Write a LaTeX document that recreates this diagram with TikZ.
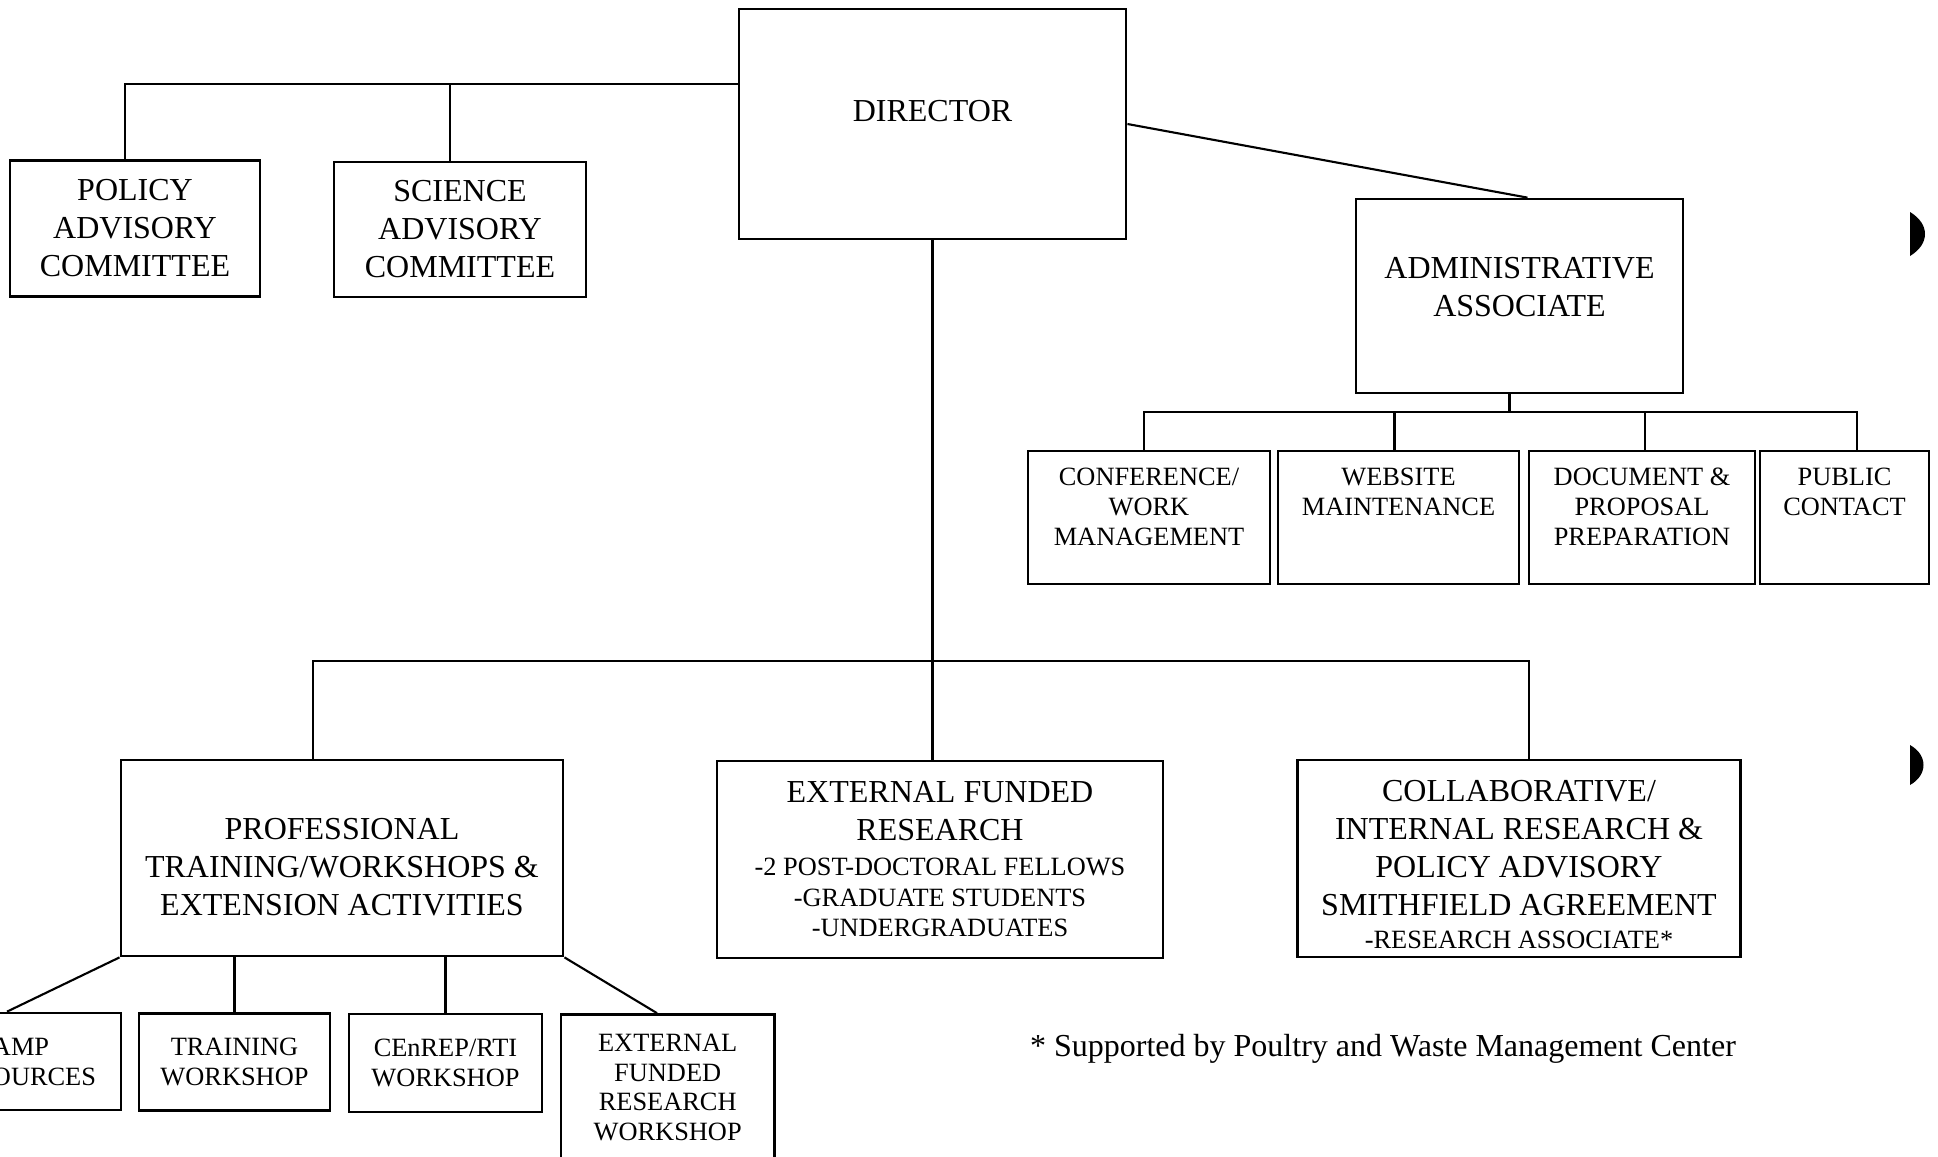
\documentclass[tikz,border=0pt]{standalone}
\usepackage{fontspec}
\setmainfont{Liberation Serif}
\newcommand{\boxfont}{\fontsize{9.1}{10.8}\selectfont}
\newcommand{\subfont}{\fontsize{7.5}{8.5}\selectfont}
\begin{document}
\begin{tikzpicture}[x=0.01cm, y=-0.01cm,
  unit/.style ={draw, line width=0.75pt, inner sep=0pt, align=center, font=\boxfont},
  subunit/.style ={unit, font=\subfont},
  link/.style ={line width=0.6pt}]
 \useasboundingbox (0,0) rectangle (1938,1157);
 \clip (0,0) rectangle (1938,1157);
 \node[unit] (director) at (932.5,124) {\parbox[c][2.30cm][t]{3.87cm}{\centering\vspace*{0.914cm}DIRECTOR}};
 \node[unit, minimum width=2.50cm, minimum height=1.36cm] (policy) at (135,228.5) {POLICY\\ADVISORY\\COMMITTEE};
 \node[unit, minimum width=2.52cm, minimum height=1.35cm] (science) at (460,229.5) {SCIENCE\\ADVISORY\\COMMITTEE};
 \node[unit] (admin) at (1519.5,296) {\parbox[c][1.94cm][t]{3.27cm}{\centering\vspace*{0.584cm}ADMINISTRATIVE\\ASSOCIATE}};
 \node[subunit] (conference) at (1149,517.5) {\parbox[c][1.33cm][t]{2.42cm}{\centering\vspace*{0.17cm}CONFERENCE/\\WORK\\MANAGEMENT}};
 \node[subunit] (website) at (1398.5,517.5) {\parbox[c][1.33cm][t]{2.41cm}{\centering\vspace*{0.17cm}WEBSITE\\MAINTENANCE}};
 \node[subunit] (document) at (1642,517.5) {\parbox[c][1.33cm][t]{2.26cm}{\centering\vspace*{0.17cm}DOCUMENT \&\\PROPOSAL\\PREPARATION}};
 \node[subunit] (public) at (1844.5,517.5) {\parbox[c][1.33cm][t]{1.69cm}{\centering\vspace*{0.17cm}PUBLIC\\CONTACT}};
 \node[unit] (profess) at (342,858) {\parbox[c][1.96cm][t]{4.42cm}{\centering\vspace*{0.584cm}PROFESSIONAL\\TRAINING/WORKSHOPS \&\\EXTENSION ACTIVITIES}};
 \node[unit, minimum width=4.46cm, minimum height=1.97cm] (extfund) at (940,859.5) {EXTERNAL FUNDED\\RESEARCH\\[-0.9pt]\subfont -2 POST-DOCTORAL FELLOWS\\[-2.1pt]\subfont -GRADUATE STUDENTS\\[-2.1pt]\subfont -UNDERGRADUATES};
 \node[unit, minimum width=4.43cm, minimum height=1.97cm] (collab) at (1519,858.5) {\rule{0pt}{9.5pt}COLLABORATIVE/\\INTERNAL RESEARCH \&\\POLICY ADVISORY\\SMITHFIELD AGREEMENT\\[-1.4pt]\subfont -RESEARCH ASSOCIATE*};
 \node[subunit, align=left, minimum width=1.54cm, minimum height=0.97cm] (amp) at (44,1061.5) {AMP\\OURCES};
 \node[subunit, minimum width=1.91cm, minimum height=0.97cm] (training) at (234.5,1062) {TRAINING\\WORKSHOP};
 \node[subunit, minimum width=1.93cm, minimum height=0.98cm] (cenrep) at (445.5,1063) {CEnREP/RTI\\WORKSHOP};
 \node[subunit, minimum width=2.135cm, minimum height=1.46cm] (extws) at (667.7,1087.5) {EXTERNAL\\FUNDED\\RESEARCH\\WORKSHOP};
 \node[font=\boxfont] (note) at (1383,1049) {* Supported by Poultry and Waste Management Center};
 \draw[link] ([yshift=4mm]director.west) -| ([xshift=-1mm]policy.north);
 \draw[link] ([yshift=4mm]director.west) -| ([xshift=-1mm]science.north);
 \draw[link] (director.east) -- ([xshift=0.8mm]admin.north);
 \draw[link] ([xshift=-1mm]admin.south) -- ++(0,18) coordinate (abus);
 \draw[link] (abus) -| ([xshift=-0.5mm]conference.north);
 \draw[link] (abus) -| ([xshift=-0.4mm]website.north);
 \draw[link] (abus) -| ([xshift=0.3mm]document.north);
 \draw[link] (abus) -| ([xshift=1.25mm]public.north);
 \draw[link] (director.south) -- (director.south |- extfund.north);
 \draw[link] ([xshift=-2.9mm]profess.north) -- ++(0,-98) -| ([xshift=1mm]collab.north);
 \draw[link] (profess.south west) -- ([xshift=-3.7mm]amp.north);
 \draw[link] (training.north) -- (training.north |- profess.south);
 \draw[link] (cenrep.north) -- (cenrep.north |- profess.south);
 \draw[link] (profess.south east) -- ([xshift=-1.07mm]extws.north);
 \fill (1910,212) .. controls (1930,224) and (1930,244) .. (1910,256) -- cycle;
 \fill (1910,745) .. controls (1928,755) and (1928,775) .. (1910,785) -- cycle;
\end{tikzpicture}
\end{document}
